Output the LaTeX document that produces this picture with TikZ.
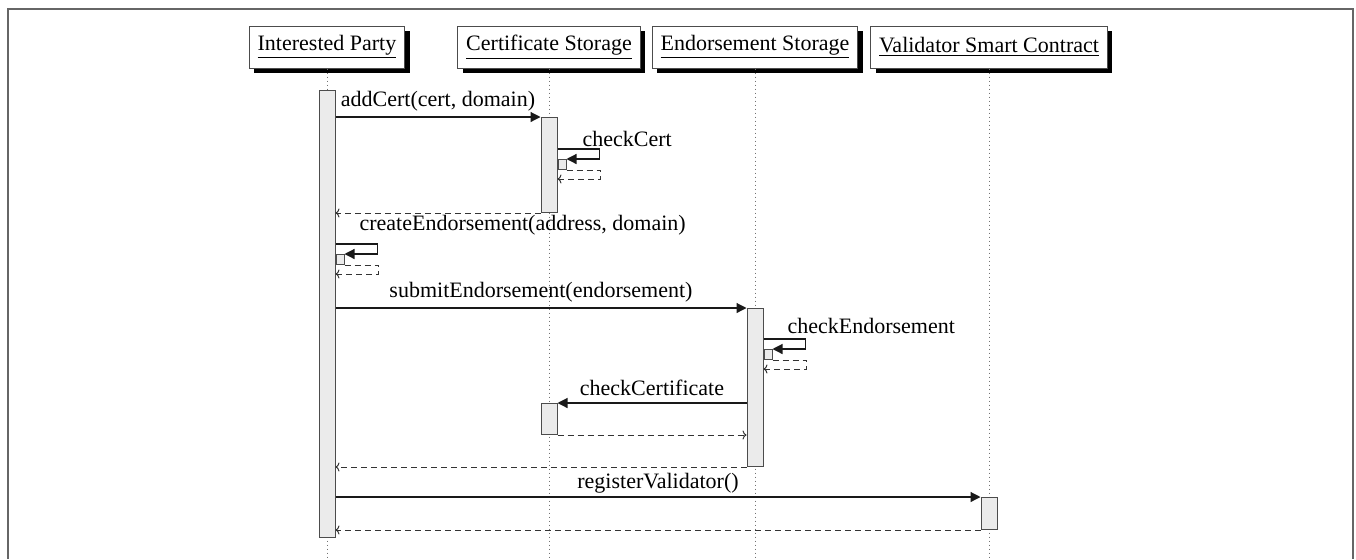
\documentclass[tikz,border=0pt]{standalone}
\usepackage{fontspec}
\setmainfont{Liberation Serif}
\usetikzlibrary{calc}
\usetikzlibrary{arrows.meta,shadows}

\begin{document}
\begin{tikzpicture}[x=0.5pt,y=-0.5pt,
	every node/.style={font=\fontsize{11}{13}\selectfont},
	party/.style={draw=black!70, fill=white, line width=0.5pt, inner xsep=4.25pt, minimum height=21pt,
		drop shadow={shadow xshift=2.5pt, shadow yshift=-2.5pt, fill=black, opacity=1}},
	life/.style={black!55, line width=0.4pt, dash pattern=on 0.4pt off 1.6pt},
	act/.style={draw=black!70, fill=black!8, line width=0.5pt, minimum width=8pt, inner sep=0pt, anchor=north},
	selfact/.style={draw=black!70, fill=black!8, line width=0.5pt, minimum width=4pt, minimum height=5pt, inner sep=0pt, anchor=north west},
	callmsg/.style={black!90, line width=0.6pt, -{Triangle[length=5pt,width=5pt]}},
	retmsg/.style={black!80, line width=0.5pt, dash pattern=on 3pt off 2pt, -{To[length=2pt,width=4.5pt]}},
	]
	\useasboundingbox (0,0) rectangle (1356,559);
	\draw[black!60, line width=0.8pt] (8,559) |- (1353,9) -- (1353,559);

	\node[party] (IP) at (327,47) {\underline{Interested Party}};
	\node[party] (CS) at ($(IP)+(222,0)$) {\underline{Certificate Storage}};
	\node[party] (ES) at ($(CS)+(206,0)$) {\underline{Endorsement Storage}};
	\node[party] (VSC) at ($(ES)+(234,0)$) {\underline{Validator Smart Contract}};

	\foreach \p in {IP,CS,ES,VSC}
		\draw[life] (\p.south) -- (\p.south |- 0,559);

	%activations
	\node[act, minimum height=223.5pt] (a1) at ($(IP)+(0,43)$) {};
	\node[act, minimum height=47.5pt] (c1) at ($(CS)+(0,70)$) {};
	\node[act, minimum height=15.5pt] (c2) at ($(CS)+(0,356)$) {};
	\node[act, minimum height=79pt] (e1) at ($(ES)+(0,261)$) {};
	\node[act, minimum height=16pt] (v1) at ($(VSC)+(0,450)$) {};

	%addCert
	\coordinate (m1) at (a1.east |- c1.north);
	\draw[callmsg] (m1) -- (c1.north west);
	\node[anchor=base, yshift=5.5pt] (l1) at ($(m1)!0.5!(c1.north west)$) {addCert(cert, domain)};

	%checkCert
	\node[selfact] (c1s) at ($(c1.north east)+(0,42)$) {};
	\coordinate (s1) at ($(c1.north east)+(0,32)$);
	\coordinate (s1r) at ($(c1.north east)+(0,62)$);
	\draw[callmsg] (s1) -- ++(42,0) |- (c1s.north east);
	\draw[retmsg] (c1s.south east) -- ++(34,0) |- (s1r);
	\node[anchor=base west] (l2) at ($(s1)+(18,-3)$) {checkCert};

	\coordinate (r1) at (a1.east |- c1.south);
	\draw[retmsg] (c1.south west) -- (r1);

	%createEndorsement
	\node[selfact] (a1s) at ($(a1.north east)+(0,164)$) {};
	\coordinate (s2) at ($(a1.north east)+(0,154)$);
	\coordinate (s2r) at ($(a1.north east)+(0,184)$);
	\draw[callmsg] (s2) -- ++(42,0) |- (a1s.north east);
	\draw[retmsg] (a1s.south east) -- ++(34,0) |- (s2r);
	\node[anchor=base west] (l3) at ($(s2)+(17,-14)$) {createEndorsement(address, domain)};

	%submitEndorsement
	\coordinate (m2) at (a1.east |- e1.north);
	\draw[callmsg] (m2) -- (e1.north west);
	\node[anchor=base, yshift=5.5pt] (l4) at ($(m2)!0.5!(e1.north west)$) {submitEndorsement(endorsement)};

	%checkEndorsement
	\node[selfact] (e1s) at ($(e1.north east)+(0,41)$) {};
	\coordinate (s3) at ($(e1.north east)+(0,31)$);
	\coordinate (s3r) at ($(e1.north east)+(0,61)$);
	\draw[callmsg] (s3) -- ++(42,0) |- (e1s.north east);
	\draw[retmsg] (e1s.south east) -- ++(34,0) |- (s3r);
	\node[anchor=base west] (l5) at ($(s3)+(17,-6)$) {checkEndorsement};

	%checkCertificate
	\coordinate (m3) at (e1.west |- c2.north);
	\draw[callmsg] (m3) -- (c2.north east);
	\node[anchor=base, yshift=4pt] (l6) at ($(m3)!0.5!(c2.north east)$) {checkCertificate};
	\coordinate (r3) at (e1.west |- c2.south);
	\draw[retmsg] (c2.south east) -- (r3);

	\coordinate (r2) at (a1.east |- e1.south);
	\draw[retmsg] (e1.south west) -- (r2);

	%registerValidator
	\coordinate (m4) at (a1.east |- v1.north);
	\draw[callmsg] (m4) -- (v1.north west);
	\node[anchor=base, yshift=4.5pt] (l7) at ($(m4)!0.5!(v1.north west)$) {registerValidator()};
	\coordinate (r4) at (a1.east |- v1.south);
	\draw[retmsg] (v1.south west) -- (r4);

\end{tikzpicture}
\end{document}
